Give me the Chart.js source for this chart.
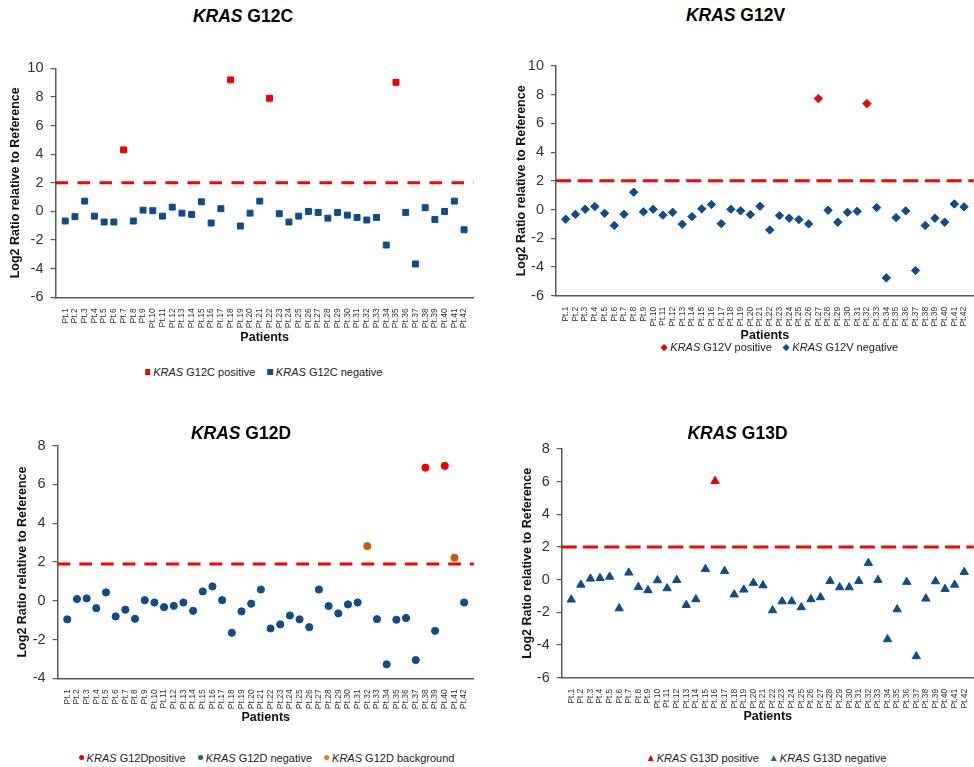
<!DOCTYPE html>
<html>
<head>
<meta charset="utf-8">
<script src="https://cdn.jsdelivr.net/npm/chart.js@4.4.1/dist/chart.umd.min.js"></script>
<style>
html,body{margin:0;padding:0;background:#fff;}
body{width:974px;height:767px;overflow:hidden;position:relative;font-family:"Liberation Sans",Arial,sans-serif;}
canvas.cv{position:absolute;}
.title{position:absolute;transform:translate(-50%,-50%);font-weight:bold;font-size:17.5px;white-space:nowrap;color:#000;}
.legend{position:absolute;transform:translate(-50%,-50%);display:flex;align-items:center;font-size:11px;white-space:nowrap;color:#222;}
.item{display:flex;align-items:center;margin:0 6px;}
.mk{display:inline-block;margin-right:3px;}
.sq{width:5.5px;height:5.5px;}
.dm{width:4.5px;height:4.5px;transform:rotate(45deg);margin-right:4px;}
.ci{width:5px;height:5px;border-radius:50%;}
.tr{width:0;height:0;border-left:3px solid transparent;border-right:3px solid transparent;border-bottom-width:6px;border-bottom-style:solid;background:none !important;}
</style>
</head>
<body>
<canvas id="c1" class="cv" width="487" height="300" style="left:0px;top:50px"></canvas>
<canvas id="c2" class="cv" width="500" height="300" style="left:487px;top:50px"></canvas>
<canvas id="c3" class="cv" width="487" height="300" style="left:0px;top:430px"></canvas>
<canvas id="c4" class="cv" width="500" height="300" style="left:487px;top:430px"></canvas>

<div class="title" style="left:243px;top:16px"><i>KRAS</i> G12C</div>
<div class="title" style="left:735.5px;top:15px"><i>KRAS</i> G12V</div>
<div class="title" style="left:241px;top:433px"><i>KRAS</i> G12D</div>
<div class="title" style="left:737.5px;top:433px"><i>KRAS</i> G13D</div>

<div class="legend" style="left:263.5px;top:372px">
  <span class="item"><span class="mk sq" style="background:#EE0000"></span><span><i>KRAS</i> G12C positive</span></span>
  <span class="item"><span class="mk sq" style="background:#0E4C8A"></span><span><i>KRAS</i> G12C negative</span></span>
</div>
<div class="legend" style="left:780px;top:347px">
  <span class="item"><span class="mk dm" style="background:#EE0000"></span><span><i>KRAS</i> G12V positive</span></span>
  <span class="item"><span class="mk dm" style="background:#0E4C8A"></span><span><i>KRAS</i> G12V negative</span></span>
</div>
<div class="legend" style="left:266.5px;top:757.7px">
  <span class="item"><span class="mk ci" style="background:#EE0000"></span><span><i>KRAS</i> G12Dpositive</span></span>
  <span class="item"><span class="mk ci" style="background:#2F5B8E"></span><span><i>KRAS</i> G12D negative</span></span>
  <span class="item"><span class="mk ci" style="background:#E87722"></span><span><i>KRAS</i> G12D background</span></span>
</div>
<div class="legend" style="left:767px;top:758px">
  <span class="item"><span class="mk tr" style="border-bottom-color:#EE0000"></span><span><i>KRAS</i> G13D positive</span></span>
  <span class="item"><span class="mk tr" style="border-bottom-color:#2F5B8E"></span><span><i>KRAS</i> G13D negative</span></span>
</div>

<script>
// ---------- DATA ----------
const patients = ['Pt.1','Pt.2','Pt.3','Pt.4','Pt.5','Pt.6','Pt.7','Pt.8','Pt.9','Pt.10',
  'Pt.11','Pt.12','Pt.13','Pt.14','Pt.15','Pt.16','Pt.17','Pt.18','Pt.19','Pt.20',
  'Pt.21','Pt.22','Pt.23','Pt.24','Pt.25','Pt.26','Pt.27','Pt.28','Pt.29','Pt.30',
  'Pt.31','Pt.32','Pt.33','Pt.34','Pt.35','Pt.36','Pt.37','Pt.38','Pt.39','Pt.40',
  'Pt.41','Pt.42'];

const g12cValues = [-0.67,-0.37,0.72,-0.33,-0.74,-0.74,4.30,-0.67,0.09,0.05,
  -0.33,0.30,-0.12,-0.21,0.67,-0.81,0.19,9.19,-1.02,-0.12,
  0.72,7.91,-0.16,-0.74,-0.33,0.00,-0.07,-0.47,-0.07,-0.26,
  -0.42,-0.60,-0.42,-2.35,9.02,-0.07,-3.67,0.26,-0.56,0.00,
  0.72,-1.28];
const g12cPositive = ['Pt.7','Pt.18','Pt.22','Pt.35'];

const g12vValues = [-0.67,-0.33,0.02,0.21,-0.26,-1.11,-0.33,1.21,-0.16,0.02,
  -0.39,-0.19,-1.02,-0.49,0.05,0.35,-0.98,0.02,-0.09,-0.35,
  0.23,-1.42,-0.42,-0.60,-0.70,-1.00,7.73,-0.05,-0.88,-0.19,
  -0.12,7.38,0.14,-4.76,-0.56,-0.09,-4.25,-1.11,-0.60,-0.88,
  0.39,0.19];
const g12vPositive = ['Pt.27','Pt.32'];

const g12dValues = [-0.96,0.09,0.12,-0.38,0.43,-0.81,-0.46,-0.93,0.03,-0.09,
  -0.33,-0.26,-0.09,-0.52,0.48,0.74,0.03,-1.65,-0.55,-0.15,
  0.58,-1.43,-1.22,-0.76,-0.96,-1.36,0.58,-0.27,-0.65,-0.19,
  -0.09,2.82,-0.95,-3.28,-0.98,-0.89,-3.06,6.87,-1.55,6.96,
  2.22,-0.09];
const g12dPositive = ['Pt.38','Pt.40'];
const g12dBackground = ['Pt.32','Pt.41'];

const g13dValues = [-1.22,-0.31,0.06,0.10,0.18,-1.76,0.43,-0.45,-0.65,-0.04,
  -0.53,-0.02,-1.55,-1.20,0.65,6.04,0.53,-0.91,-0.61,-0.20,
  -0.35,-1.88,-1.33,-1.33,-1.69,-1.20,-1.08,-0.08,-0.47,-0.47,
  -0.08,1.02,-0.02,-3.65,-1.82,-0.14,-4.69,-1.16,-0.10,-0.57,
  -0.31,0.47];
const g13dPositive = ['Pt.16'];

const thresholds = { g12c: 2, g12v: 2, g12d: 1.9, g13d: 2 };
const yAxisTitle = 'Log2 Ratio relative to Reference';
const xAxisTitle = 'Patients';

// ---------- STYLE ----------
const RED = '#EE0000', BLUE = '#0E4C8A', ORANGE = '#C55A11';
const FONT = '"Liberation Sans", Arial, sans-serif';

const thresholdPlugin = {
  id: 'threshold',
  beforeDatasetsDraw(chart, args, opts) {
    const {ctx, chartArea, scales} = chart;
    const py = scales.y.getPixelForValue(opts.value);
    ctx.save();
    ctx.strokeStyle = opts.color;
    ctx.lineWidth = opts.width;
    ctx.setLineDash(opts.dash);
    ctx.beginPath();
    ctx.moveTo(chartArea.left, py);
    ctx.lineTo(chartArea.right, py);
    ctx.stroke();
    ctx.restore();
  }
};

function buildChart(cfg) {
  const canvas = document.getElementById(cfg.id);
  const W = canvas.width, H = canvas.height;
  const a = cfg.area;
  const datasets = cfg.groups.map(g => ({
    label: g.label,
    data: patients.map((p, i) => g.test(p) ? {x: i + 1, y: cfg.values[i]} : null).filter(Boolean),
    pointStyle: cfg.pointStyle,
    pointRadius: cfg.radius,
    backgroundColor: g.color,
    borderColor: g.color,
    borderWidth: 1,
    showLine: false
  }));
  return new Chart(canvas, {
    type: 'scatter',
    data: {datasets},
    options: {
      responsive: false,
      animation: false,
      events: [],
      layout: {padding: {top: a.top, right: W - a.right, left: 0, bottom: 0}},
      plugins: {
        legend: {display: false},
        tooltip: {enabled: false},
        threshold: {value: cfg.threshold, color: '#FF0000', width: 3, dash: cfg.dash}
      },
      scales: {
        x: {
          type: 'linear', min: 0, max: patients.length + 1,
          afterFit(s) { s.height = H - a.bottom; },
          ticks: {stepSize: 1, autoSkip: false, minRotation: 90, maxRotation: 90, padding: 3,
                  font: {family: FONT, size: 8.5}, color: '#333',
                  callback: (v) => patients[v - 1] || ''},
          grid: {display: false},
          border: {display: true, color: '#5a5a5a', width: 1.5},
          title: {display: true, text: xAxisTitle, color: '#111',
                  font: {family: FONT, size: 12.5, weight: 'bold'},
                  padding: {top: 0, bottom: cfg.xTitlePad}}
        },
        y: {
          min: cfg.yMin, max: cfg.yMax,
          afterFit(s) { s.width = a.left; },
          ticks: {stepSize: 2, padding: 7, font: {family: FONT, size: 14.5}, color: '#333'},
          grid: {drawOnChartArea: false, drawTicks: true, tickLength: 5, color: '#5a5a5a', lineWidth: 1.2},
          border: {display: true, color: '#5a5a5a', width: 1.5},
          title: {display: true, text: yAxisTitle, color: '#111',
                  font: {family: FONT, size: 12.5, weight: 'bold'},
                  padding: {top: cfg.yTitlePad, bottom: 0}}
        }
      }
    },
    plugins: [thresholdPlugin]
  });
}

buildChart({
  id: 'c1', values: g12cValues, pointStyle: 'rect', radius: 4.2,
  groups: [
    {label: 'KRAS G12C positive', color: RED, test: p => g12cPositive.includes(p)},
    {label: 'KRAS G12C negative', color: BLUE, test: p => !g12cPositive.includes(p)}
  ],
  area: {left: 55.5, right: 480, top: 18.3, bottom: 247.3},
  yMin: -6, yMax: 10, threshold: thresholds.g12c, dash: [12.5, 9.5],
  xTitlePad: 5.2, yTitlePad: 8.5
});

buildChart({
  id: 'c2', values: g12vValues, pointStyle: 'rectRot', radius: 4.2,
  groups: [
    {label: 'KRAS G12V positive', color: RED, test: p => g12vPositive.includes(p)},
    {label: 'KRAS G12V negative', color: BLUE, test: p => !g12vPositive.includes(p)}
  ],
  area: {left: 69, right: 489.4, top: 16, bottom: 245.7},
  yMin: -6, yMax: 10, threshold: thresholds.g12v, dash: [15, 6.7],
  xTitlePad: 6.8, yTitlePad: 27.5
});

buildChart({
  id: 'c3', values: g12dValues, pointStyle: 'circle', radius: 3.6,
  groups: [
    {label: 'KRAS G12Dpositive', color: RED, test: p => g12dPositive.includes(p)},
    {label: 'KRAS G12D negative', color: BLUE, test: p => !g12dPositive.includes(p) && !g12dBackground.includes(p)},
    {label: 'KRAS G12D background', color: ORANGE, test: p => g12dBackground.includes(p)}
  ],
  area: {left: 57.6, right: 474, top: 15.5, bottom: 248.3},
  yMin: -4, yMax: 8, threshold: thresholds.g12d, dash: [12.7, 9],
  xTitlePad: 4.5, yTitlePad: 15.2
});

buildChart({
  id: 'c4', values: g13dValues, pointStyle: 'triangle', radius: 4.8,
  groups: [
    {label: 'KRAS G13D positive', color: RED, test: p => g13dPositive.includes(p)},
    {label: 'KRAS G13D negative', color: BLUE, test: p => !g13dPositive.includes(p)}
  ],
  area: {left: 74.7, right: 486.9, top: 19, bottom: 247.7},
  yMin: -6, yMax: 8, threshold: thresholds.g13d, dash: [15, 6.3],
  xTitlePad: 5.5, yTitlePad: 32.8
});
</script>
</body>
</html>
